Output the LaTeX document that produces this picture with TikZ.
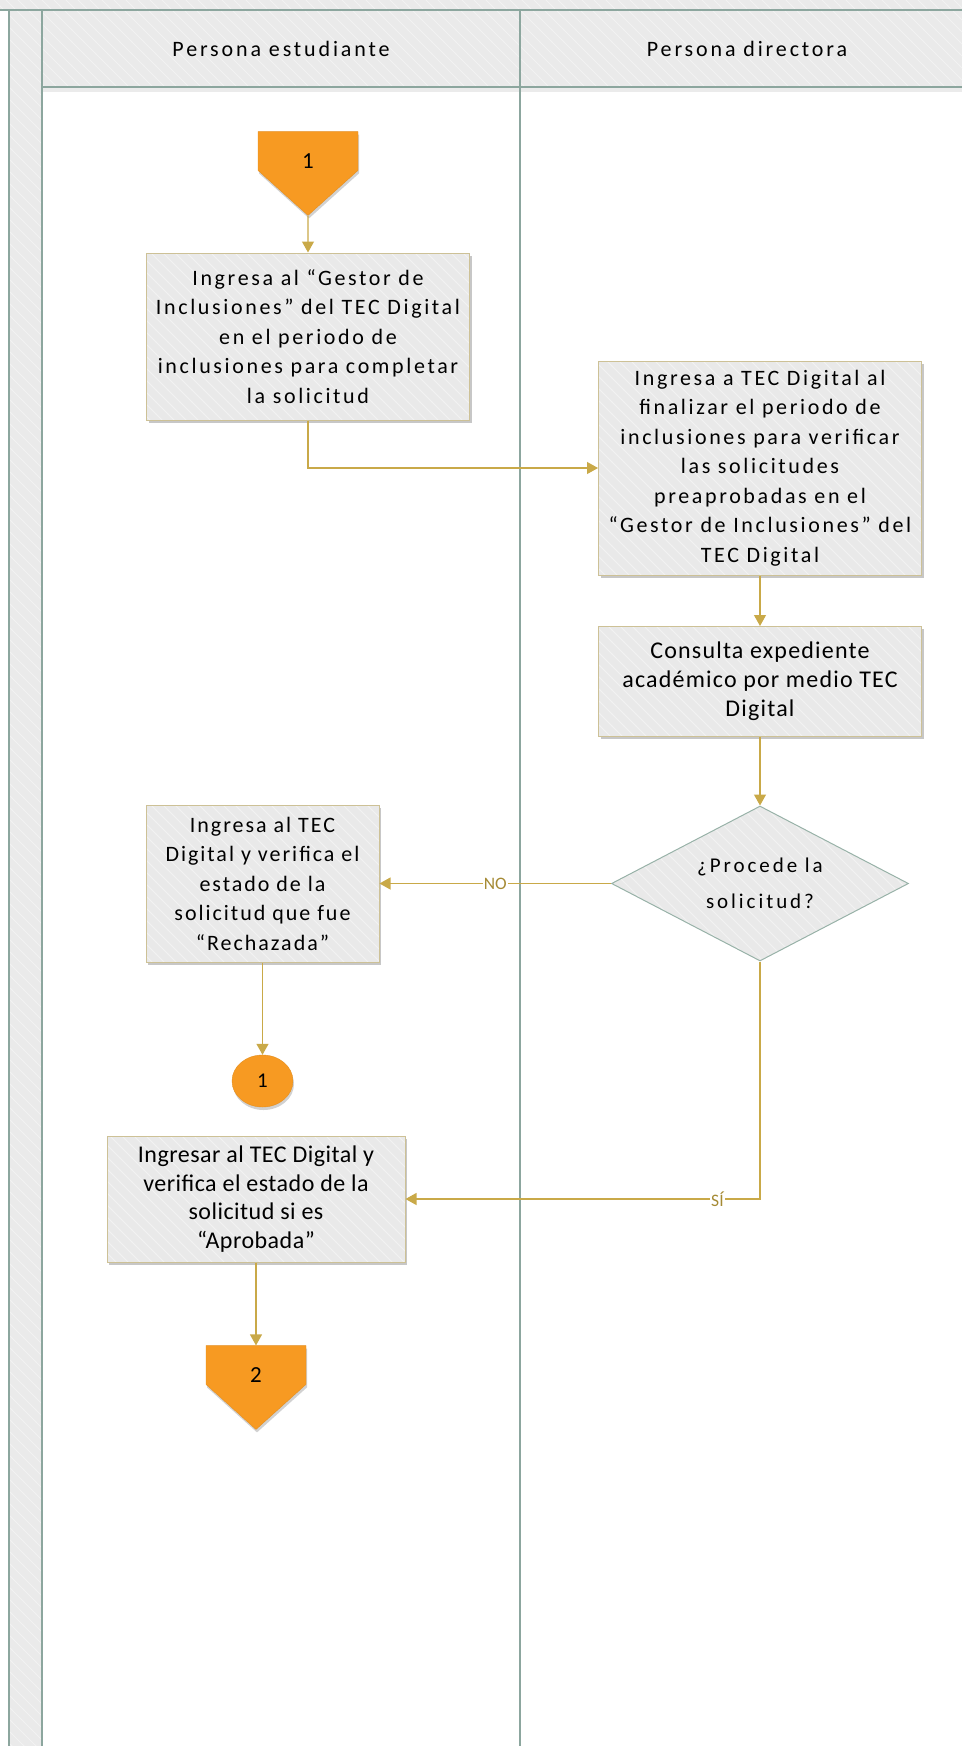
\documentclass[tikz,border=0pt]{standalone}
\usepackage{fontspec}
\setmainfont{Carlito}
\newfontfamily\procfont[LetterSpace=12]{Carlito}
\newfontfamily\narrowfont[LetterSpace=9]{Carlito}
\newfontfamily\plainfont[LetterSpace=5]{Carlito}
\newfontfamily\tightfont[LetterSpace=2]{Carlito}
\newfontfamily\headfont[LetterSpace=13]{Carlito}
\newfontfamily\askfont[LetterSpace=14]{Carlito}
\usetikzlibrary{shapes.geometric, shapes.symbols, arrows.meta, shadows, patterns.meta}
\definecolor{laneline}{RGB}{140,166,158}
\definecolor{lanefill}{RGB}{234,234,234}
\definecolor{boxfill}{RGB}{233,233,233}
\definecolor{hatchline}{RGB}{242,242,242}
\definecolor{boxline}{RGB}{205,193,150}
\definecolor{diaborder}{RGB}{152,178,168}
\definecolor{flow}{RGB}{201,169,72}
\definecolor{flowtext}{RGB}{165,138,52}
\definecolor{tecorange}{RGB}{247,154,34}
\tikzdeclarepattern{name=hatch, type=uncolored, bottom left={(-1pt,-1pt)}, top right={(13pt,13pt)}, tile size={(12pt,12pt)}, code={\draw[line width=0.8pt] (-1pt,13pt) -- (13pt,-1pt);}}
\tikzstyle{hatched} = [preaction={fill=boxfill}, preaction={pattern=hatch, pattern color=hatchline}]
\tikzstyle{lane} = [draw=laneline, line width=1.4pt]
\tikzstyle{lanefield} = [fill=lanefill, postaction={pattern=hatch, pattern color=hatchline}]
\tikzstyle{lanehead} = [font=\headfont\fontsize{22}{26}\selectfont]
\tikzstyle{process} = [rectangle, align=center, inner sep=2pt, drop shadow={shadow xshift=2pt, shadow yshift=-2.5pt, fill=black, opacity=0.22}, hatched, draw=boxline, line width=1pt, font=\procfont\fontsize{22}{29.5}\selectfont]
\tikzstyle{process2} = [process, font=\plainfont\fontsize{24}{29}\selectfont]
\tikzstyle{decision} = [diamond, aspect=2, inner sep=0pt, minimum width=297pt, minimum height=155pt, align=center, hatched, draw=diaborder, line width=1pt, font=\askfont\fontsize{21}{36}\selectfont]
\tikzstyle{offpage} = [signal, signal to=south, signal from=nowhere, signal pointer angle=96, inner sep=0pt, minimum width=100pt, minimum height=44pt, text height=34pt, text depth=0pt, fill=tecorange, draw=tecorange!92!black, drop shadow={shadow xshift=1pt, shadow yshift=-3pt, fill=black, opacity=0.18}, font=\fontsize{23}{26}\selectfont]
\tikzstyle{connector} = [ellipse, inner sep=0pt, minimum width=61pt, minimum height=52pt, fill=tecorange, draw=tecorange!92!black, drop shadow={shadow xshift=1pt, shadow yshift=-3pt, fill=black, opacity=0.18}, font=\fontsize{21}{24}\selectfont]
\tikzstyle{flowlabel} = [fill=white, inner sep=1pt, text=flowtext, font=\fontsize{17.5}{20}\selectfont]
\tikzstyle{arrow} = [line width=1.2pt, draw=flow, ->, >={Triangle[width=12pt, length=11pt]}]

\begin{document}
\begin{tikzpicture}[x=1pt, y=1pt, yscale=-1]
\useasboundingbox (0,0) rectangle (962,1746);

% pool and lanes
\path [lanefield] (0,0) rectangle (962,10);
\path [lanefield] (9,10) rectangle (42,1746);
\path [lanefield] (42,10) rectangle (962,87);
\fill [black, opacity=0.08] (42,87) rectangle (962,92);
\draw [lane] (0,10) -- (962,10);
\draw [lane] (9,10) -- (9,1746);
\draw [lane] (42,10) -- (42,1746);
\draw [lane] (520,10) -- (520,1746);
\draw [lane] (42,87) -- (962,87);

\node at (281, 49) (estudiante) [lanehead] {Persona estudiante};
\node at (747, 49) (directora) [lanehead] {Persona directora};

\node at (308, 151) (start) [offpage] {1};
\node at (308, 336.5) (ingresa) [process, minimum width=323pt, minimum height=167pt] {Ingresa al “Gestor de\\Inclusiones” del TEC Digital\\en el periodo de\\inclusiones para completar\\la solicitud};

\node at (760, 468) (verifica) [process, minimum width=323pt, minimum height=214pt] {Ingresa a TEC Digital al\\finalizar el periodo de\\inclusiones para verificar\\las solicitudes\\preaprobadas en el\\“Gestor de Inclusiones” del\\TEC Digital};
\node at (760, 681.5) (consulta) [process2, minimum width=323pt, minimum height=110pt] {Consulta expediente\\académico por medio TEC\\Digital};
\node at (760, 883.5) (procede) [decision] {¿Procede la\\solicitud?};

\node at (262.5, 883.5) (rechazo) [process, minimum width=233pt, minimum height=157pt, font=\narrowfont\fontsize{22}{29.5}\selectfont] {Ingresa al TEC\\Digital y verifica el\\estado de la\\solicitud que fue\\“Rechazada”};
\node at (262.5, 1081) (fin) [connector] {1};
\node at (256, 1199) (aprobado) [process2, minimum width=298pt, minimum height=126pt, font=\tightfont\fontsize{24}{28.5}\selectfont] {Ingresar al TEC Digital y\\verifica el estado de la\\solicitud si es\\“Aprobada”};
\node at (256, 1365) (sigue) [offpage] {2};

\draw [arrow] (start) -- (ingresa);
\draw [arrow] (ingresa.south) |- (verifica.west);
\draw [arrow] (verifica) -- (consulta);
\draw [arrow] (consulta) -- (procede);
\draw [arrow] (procede.west) -- (rechazo.east) node [midway, flowlabel] {NO};
\draw [arrow] (rechazo) -- (fin);
\draw [arrow] (procede.south) |- (aprobado.east) node [pos=0.56, flowlabel] {SÍ};
\draw [arrow] (aprobado) -- (sigue);

\end{tikzpicture}
\end{document}
